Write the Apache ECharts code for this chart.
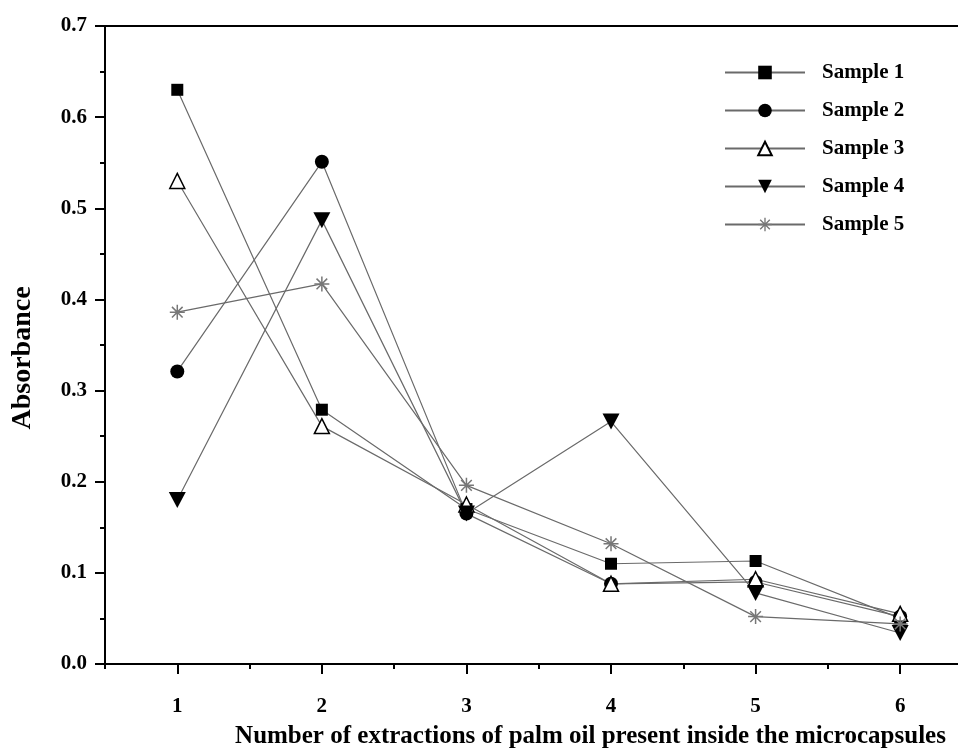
<!DOCTYPE html>
<html>
<head>
<meta charset="utf-8">
<script src="https://cdn.jsdelivr.net/npm/echarts@6/dist/echarts.min.js"></script>
<style>
  html, body { margin: 0; padding: 0; background: #fff; }
  #chart { width: 958px; height: 754px; }
</style>
</head>
<body>
<div id="chart"></div>
<script>
// Extraction number (x) and absorbance readings for each sample
const extractions = [1, 2, 3, 4, 5, 6];
const sample1 = [0.630, 0.279, 0.170, 0.110, 0.113, 0.050];
const sample2 = [0.321, 0.551, 0.165, 0.088, 0.090, 0.052];
const sample3 = [0.530, 0.261, 0.175, 0.088, 0.093, 0.055];
const sample4 = [0.180, 0.487, 0.165, 0.266, 0.078, 0.034];
const sample5 = [0.386, 0.417, 0.196, 0.132, 0.052, 0.044];

const xMajorTicks = [1, 2, 3, 4, 5, 6];
const xMinorTicks = [0.5, 1.5, 2.5, 3.5, 4.5, 5.5];

const FONT = '"Liberation Serif", "DejaVu Serif", serif';

// Asterisk marker built from four thin bars
const asterisk = 'path://M9,0 L11,0 L11,20 L9,20 Z M0,9 L20,9 L20,11 L0,11 Z ' +
  'M2.2,3.6 L3.6,2.2 L17.8,16.4 L16.4,17.8 Z M16.4,2.2 L17.8,3.6 L3.6,17.8 L2.2,16.4 Z';
const downTriangle = 'path://M0,0 L20,0 L10,18 Z';

function pairs(vals) {
  return extractions.map((x, i) => [x, vals[i]]);
}

const lineStyle = { color: '#6a6a6a', width: 1.2 };

const series = [
  { name: 'Sample 1', data: pairs(sample1), symbol: 'rect', symbolSize: 12,
    itemStyle: { color: '#000' } },
  { name: 'Sample 2', data: pairs(sample2), symbol: 'circle', symbolSize: 14,
    itemStyle: { color: '#000' } },
  { name: 'Sample 3', data: pairs(sample3), symbol: 'triangle', symbolSize: 15,
    itemStyle: { color: '#fff', borderColor: '#000', borderWidth: 1.5 } },
  { name: 'Sample 4', data: pairs(sample4), symbol: downTriangle, symbolSize: [17, 16],
    itemStyle: { color: '#000' } },
  { name: 'Sample 5', data: pairs(sample5), symbol: asterisk, symbolSize: 15,
    itemStyle: { color: '#777' } }
].map(s => Object.assign({
  type: 'line',
  xAxisIndex: 0,
  yAxisIndex: 0,
  showAllSymbol: true,
  lineStyle: lineStyle,
  emphasis: { disabled: true },
  animation: false
}, s));

const chart = echarts.init(document.getElementById('chart'), null, { renderer: 'canvas' });

const X_MIN = 0.5;
const X_MAX = 6.4;

chart.setOption({
  backgroundColor: '#fff',
  animation: false,
  grid: { left: 105, right: 0, top: 26, bottom: 85, containLabel: false },
  legend: {
    orient: 'vertical',
    left: 719,
    top: 57,
    itemWidth: 80,
    itemHeight: 17,
    itemGap: 17,
    textStyle: { fontFamily: FONT, fontWeight: 'bold', fontSize: 21, color: '#000', padding: [0, 0, 0, 12] },
    data: ['Sample 1', 'Sample 2', 'Sample 3', 'Sample 4', 'Sample 5']
  },
  xAxis: [
    {
      type: 'value',
      min: X_MIN,
      max: X_MAX,
      position: 'bottom',
      name: 'Number of extractions of palm oil present inside the microcapsules',
      nameLocation: 'middle',
      nameGap: 60,
      nameTextStyle: { fontFamily: FONT, fontWeight: 'bold', fontSize: 25, color: '#000', padding: [0, 0, 0, 118] },
      splitLine: { show: false },
      axisLine: { onZero: false, lineStyle: { color: '#000', width: 2 } },
      axisTick: { customValues: xMajorTicks, length: 10, inside: false, lineStyle: { color: '#000', width: 2 } },
      axisLabel: { customValues: xMajorTicks, margin: 32, fontFamily: FONT, fontWeight: 'bold', fontSize: 21, color: '#000' }
    },
    {
      type: 'value',
      min: X_MIN,
      max: X_MAX,
      position: 'bottom',
      splitLine: { show: false },
      axisLine: { show: false },
      axisTick: { customValues: xMinorTicks, length: 5, lineStyle: { color: '#000', width: 2 } },
      axisLabel: { show: false }
    },
    {
      type: 'value',
      min: X_MIN,
      max: X_MAX,
      position: 'top',
      splitLine: { show: false },
      axisLine: { lineStyle: { color: '#000', width: 2 } },
      axisTick: { show: false },
      axisLabel: { show: false }
    }
  ],
  yAxis: {
    type: 'value',
    min: 0,
    max: 0.7,
    interval: 0.1,
    name: 'Absorbance',
    nameLocation: 'middle',
    nameGap: 68,
    nameTextStyle: { fontFamily: FONT, fontWeight: 'bold', fontSize: 28, color: '#000', padding: [0, 26, 0, 0] },
    splitLine: { show: false },
    axisLine: { show: true, lineStyle: { color: '#000', width: 2 } },
    axisTick: { length: 10, lineStyle: { color: '#000', width: 2 } },
    minorTick: { show: true, splitNumber: 2, length: 5, lineStyle: { color: '#000', width: 2 } },
    axisLabel: {
      margin: 18,
      fontFamily: FONT, fontWeight: 'bold', fontSize: 21, color: '#000',
      formatter: v => v.toFixed(1)
    }
  },
  series: series
});
</script>
</body>
</html>
